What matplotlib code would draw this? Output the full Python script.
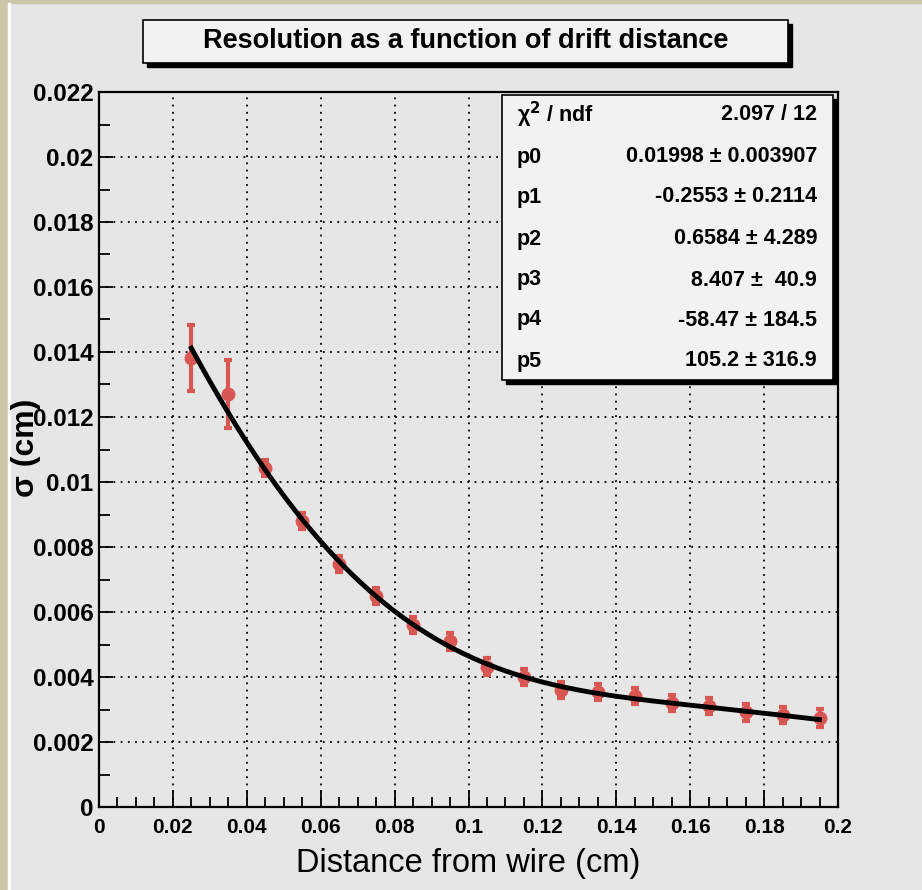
import numpy as np
import matplotlib
matplotlib.use("Agg")
import matplotlib.pyplot as plt
from matplotlib.patches import Rectangle
from matplotlib.ticker import MultipleLocator

plt.rcParams['font.family'] = ['Liberation Sans', 'DejaVu Sans']

# measured resolution vs drift distance
distance = [0.025, 0.035, 0.045, 0.055, 0.065, 0.075, 0.085, 0.095, 0.105,
            0.115, 0.125, 0.135, 0.145, 0.155, 0.165, 0.175, 0.185, 0.195]
sigma = [0.01382, 0.01271, 0.01043, 0.00880, 0.00748, 0.00649, 0.00560, 0.00510, 0.00431,
         0.00400, 0.00360, 0.00354, 0.00342, 0.00320, 0.00311, 0.00292, 0.00283, 0.00274]
sigma_err = [0.00102, 0.00105, 0.00026, 0.00025, 0.00025, 0.00025, 0.00025, 0.00026, 0.00026,
             0.00025, 0.00025, 0.00026, 0.00025, 0.00025, 0.00025, 0.00026, 0.00025, 0.00027]

xticks = [0, 0.02, 0.04, 0.06, 0.08, 0.1, 0.12, 0.14, 0.16, 0.18, 0.2]
xticklabels = ["0", "0.02", "0.04", "0.06", "0.08", "0.1", "0.12", "0.14", "0.16", "0.18", "0.2"]
yticks = [0, 0.002, 0.004, 0.006, 0.008, 0.01, 0.012, 0.014, 0.016, 0.018, 0.02, 0.022]
yticklabels = ["0", "0.002", "0.004", "0.006", "0.008", "0.01", "0.012", "0.014",
               "0.016", "0.018", "0.02", "0.022"]

# pol5 fit parameters
fit_params = [0.01998, -0.2553, 0.6584, 8.407, -58.47, 105.2]
stat_labels = ["p0", "p1", "p2", "p3", "p4", "p5"]
stat_values = ["0.01998 ± 0.003907", "-0.2553 ± 0.2114", "0.6584 ± 4.289",
               "8.407 ±  40.9", "-58.47 ± 184.5", "105.2 ± 316.9"]
chi2_text = "2.097 / 12"

bg = "#e6e6e6"
red = "#d95752"

fig = plt.figure(figsize=(9.22, 8.90), dpi=100, facecolor=bg)
# tan frame on the left / top
fig.patches.append(Rectangle((0, 0), 8 / 922, 1, transform=fig.transFigure, color="#cdc7a9", zorder=0))
fig.patches.append(Rectangle((0, 1 - 3 / 890), 1, 3 / 890, transform=fig.transFigure, color="#cdc7a9", zorder=0))
fig.patches.append(Rectangle((8 / 922, 0), 1.5 / 922, 1 - 3 / 890, transform=fig.transFigure, color="white", zorder=0))

ax = fig.add_axes([99 / 922, 1 - 807 / 890, 739 / 922, 715 / 890])
ax.set_facecolor(bg)

ax.set_xticks(xticks)
ax.set_xticklabels(xticklabels, fontweight='bold', fontsize=15)
ax.set_yticks(yticks)
ax.set_yticklabels(yticklabels, fontweight='bold', fontsize=17.5)
ax.xaxis.set_minor_locator(MultipleLocator(0.005))
ax.yaxis.set_minor_locator(MultipleLocator(0.001))
ax.set_xlim(0, 0.2)
ax.set_ylim(0, 0.022)
ax.tick_params(which='both', direction='in', top=False, right=False, width=1.3, color='black')
ax.tick_params(axis='x', which='major', length=12)
ax.tick_params(axis='x', which='minor', length=7)
ax.tick_params(axis='y', which='major', length=10)
ax.tick_params(axis='y', which='minor', length=8)
ax.tick_params(axis='y', pad=4)
ax.tick_params(axis='x', pad=8)
for s in ax.spines.values():
    s.set_linewidth(1.6)
ax.grid(True, which='major', color='black', linestyle=(0, (1, 3)), linewidth=1.3)

ax.errorbar(distance, sigma, yerr=sigma_err, fmt='o', color=red, markersize=9,
            elinewidth=3, capsize=3, capthick=3, zorder=3)

xf = np.linspace(distance[0], distance[-1], 300)
yf = np.polyval(fit_params[::-1], xf)
ax.plot(xf, yf, color='black', lw=3.5, zorder=4)

ax.set_xlabel("Distance from wire (cm)", fontsize=23.5, labelpad=8)
fig.text(26 / 922, 1 - 448 / 890, "σ (cm)", rotation=90, fontsize=23, fontweight='bold',
         ha='center', va='center')

# title box
tx0, ty0, tx1, ty1 = 143, 20, 788, 63
fig.patches.append(Rectangle((tx0 / 922 + 4 / 922, 1 - (ty1 + 4) / 890), (tx1 - tx0) / 922, (ty1 - ty0) / 890,
                             transform=fig.transFigure, facecolor='black', edgecolor='black', zorder=5))
fig.patches.append(Rectangle((tx0 / 922, 1 - ty1 / 890), (tx1 - tx0) / 922, (ty1 - ty0) / 890,
                             transform=fig.transFigure, facecolor='#f2f2f2', edgecolor='black', lw=1.2, zorder=6))
fig.text((tx0 + tx1) / 2 / 922, 1 - (ty0 + ty1) / 2 / 890, "Resolution as a function of drift distance",
         fontsize=19.5, fontweight='bold', ha='center', va='center', zorder=7)

# stats box
sx0, sy0, sx1, sy1 = 502, 95, 833, 380
fig.patches.append(Rectangle(((sx0 + 4) / 922, 1 - (sy1 + 4) / 890), (sx1 - sx0) / 922, (sy1 - sy0) / 890,
                             transform=fig.transFigure, facecolor='black', edgecolor='black', zorder=5))
fig.patches.append(Rectangle((sx0 / 922, 1 - sy1 / 890), (sx1 - sx0) / 922, (sy1 - sy0) / 890,
                             transform=fig.transFigure, facecolor='#f2f2f2', edgecolor='black', lw=1.2, zorder=6))
row_y = [115, 157, 197, 239, 280, 320, 361]
fs = 15.5
fig.text(517 / 922, 1 - row_y[0] / 890, "χ$^{\\mathbf{2}}$ / ndf", fontsize=fs, fontweight='bold',
         ha='left', va='center', zorder=7)
fig.text(817 / 922, 1 - row_y[0] / 890, chi2_text, fontsize=fs, fontweight='bold',
         ha='right', va='center', zorder=7)
for lab, val, yy in zip(stat_labels, stat_values, row_y[1:]):
    fig.text(517 / 922, 1 - yy / 890, lab, fontsize=fs, fontweight='bold', ha='left', va='center', zorder=7)
    fig.text(817 / 922, 1 - yy / 890, val, fontsize=fs, fontweight='bold', ha='right', va='center', zorder=7)

fig.savefig("out.png", dpi=100, facecolor=bg)
